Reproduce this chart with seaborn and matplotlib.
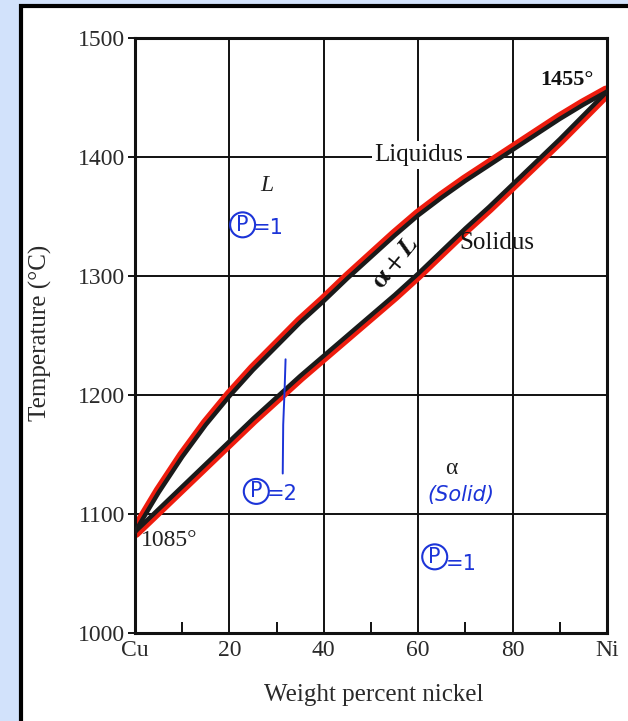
import matplotlib
matplotlib.use("Agg")
import matplotlib.pyplot as plt
import matplotlib.transforms as mtransforms
from matplotlib.patches import Rectangle
import seaborn as sns
import pandas as pd

# ---- data ----
nickel_pct = [0, 5, 10, 15, 20, 25, 30, 35, 40, 45, 50,
              55, 60, 65, 70, 75, 80, 85, 90, 95, 100]
liquidus_T = [1085, 1118, 1148, 1175, 1199, 1221, 1241, 1261, 1279, 1298, 1316,
              1334, 1351, 1366, 1380, 1393, 1406, 1419, 1432, 1444, 1455]
solidus_T = [1085, 1104, 1123, 1142, 1161, 1180, 1198, 1216, 1233, 1250, 1267,
             1284, 1302, 1321, 1340, 1358, 1377, 1396, 1415, 1435, 1455]
x_tick_pos = [0, 20, 40, 60, 80, 100]
x_tick_labels = ["Cu", "20", "40", "60", "80", "Ni"]
y_ticks = [1000, 1100, 1200, 1300, 1400, 1500]
minor_x = [10, 30, 50, 70, 90]
tie_x = [31.3, 31.4, 31.7, 31.9]
tie_T = [1134, 1175, 1205, 1230]

df = pd.DataFrame({"Ni": nickel_pct, "Liquidus": liquidus_T, "Solidus": solidus_T})

sns.set_theme(style="white")
plt.rcParams["font.family"] = ["Liberation Serif", "DejaVu Serif"]
plt.rcParams["mathtext.fontset"] = "stix"

fig = plt.figure(figsize=(6.28, 7.21), dpi=100, facecolor="#d2e2fb")
fig.patches.append(Rectangle((21 / 628, -0.02), 1.0, 1 - 6 / 721 + 0.02,
                             transform=fig.transFigure, facecolor="white",
                             edgecolor="black", lw=3, zorder=-10))
ax = fig.add_axes([135 / 628, 1 - 633 / 721, 472 / 628, 595 / 721])
ax.set_facecolor("white")

# grid lines
for gx in [20, 40, 60, 80]:
    ax.axvline(gx, color="#111111", lw=1.4, zorder=1)
for gy in [1100, 1200, 1300, 1400]:
    ax.axhline(gy, color="#111111", lw=1.4, zorder=1)

# red highlight (outer edges) and black curves
up = mtransforms.offset_copy(ax.transData, fig=fig, x=-1.0, y=1.8, units="points")
dn = mtransforms.offset_copy(ax.transData, fig=fig, x=1.0, y=-1.8, units="points")
ax.plot(df["Ni"], df["Liquidus"], color="#ee1c0e", lw=5, transform=up, zorder=2,
        solid_capstyle="round", solid_joinstyle="round")
ax.plot(df["Ni"], df["Solidus"], color="#ee1c0e", lw=5, transform=dn, zorder=2,
        solid_capstyle="round", solid_joinstyle="round")
sns.lineplot(data=df, x="Ni", y="Liquidus", ax=ax, color="#1a1a1a", lw=3.2, zorder=3)
sns.lineplot(data=df, x="Ni", y="Solidus", ax=ax, color="#1a1a1a", lw=3.2, zorder=3)

ax.set_xlim(0, 100)
ax.set_ylim(1000, 1500)
ax.set_xticks(x_tick_pos)
ax.set_xticklabels(x_tick_labels)
ax.set_yticks(y_ticks)
ax.set_xticks(minor_x, minor=True)
ax.tick_params(axis="x", which="major", length=0, pad=5, labelsize=17)
ax.tick_params(axis="x", which="minor", direction="in", length=8, width=1.4,
               color="#111111", bottom=True)
ax.tick_params(axis="y", which="major", direction="out", length=5, width=1.4,
               color="#111111", left=True, pad=2, labelsize=17)
for lbl in ax.get_xticklabels() + ax.get_yticklabels():
    lbl.set_color("#2a2a2a")
for s in ax.spines.values():
    s.set_color("#111111")
    s.set_linewidth(2.2)
ax.set_xlabel("")
ax.set_ylabel("")

fig.text(40 / 628, 1 - 333 / 721, "Temperature (°C)", rotation=90, ha="center",
         va="center", fontsize=18, color="#2a2a2a")
fig.text(374 / 628, 1 - 695 / 721, "Weight percent nickel", ha="center",
         va="center", fontsize=18, color="#2a2a2a")

# printed annotations
ax.text(60.2, 1402, "Liquidus", ha="center", va="center", fontsize=18,
        color="#151515", zorder=4,
        bbox=dict(boxstyle="square,pad=0.12", fc="white", ec="none"))
ax.text(76.7, 1328, "Solidus", ha="center", va="center", fontsize=18,
        color="#151515", zorder=4)
ax.text(91.5, 1465, "1455°", ha="center", va="center", fontsize=16,
        color="#111111", fontweight="bold", zorder=4)
ax.text(1.2, 1078, "1085°", ha="left", va="center", fontsize=17,
        color="#222222", zorder=4)
ax.text(55.3, 1311, r"$\mathbf{\alpha} + \boldsymbol{L}$", ha="center", va="center",
        fontsize=19, color="#111111", rotation=51, zorder=4)
ax.text(28.0, 1376, "L", ha="center", va="center", fontsize=17,
        fontstyle="italic", color="#222222", zorder=4)
ax.text(67.0, 1138, "α", ha="center", va="center", fontsize=17,
        color="#222222", zorder=4)

# handwritten (blue) annotations
blue = "#1c34d8"
hand = dict(color=blue, fontsize=15, family=["DejaVu Sans"], zorder=5)
ax.text(22.8, 1343, "P", ha="center", va="center",
        bbox=dict(boxstyle="circle,pad=0.12", fc="none", ec=blue, lw=1.5), **hand)
ax.text(24.9, 1340, "=1", ha="left", va="center", **hand)
ax.text(25.7, 1119, "P", ha="center", va="center",
        bbox=dict(boxstyle="circle,pad=0.12", fc="none", ec=blue, lw=1.5), **hand)
ax.text(28.0, 1117, "=2", ha="left", va="center", **hand)
ax.text(69.0, 1116, "(Solid)", ha="center", va="center", fontstyle="italic", **hand)
ax.text(63.5, 1064, "P", ha="center", va="center",
        bbox=dict(boxstyle="circle,pad=0.12", fc="none", ec=blue, lw=1.5), **hand)
ax.text(65.8, 1058, "=1", ha="left", va="center", **hand)
ax.plot(tie_x, tie_T, color=blue, lw=1.4, zorder=5)

fig.savefig("out.png", dpi=100, facecolor=fig.get_facecolor())
